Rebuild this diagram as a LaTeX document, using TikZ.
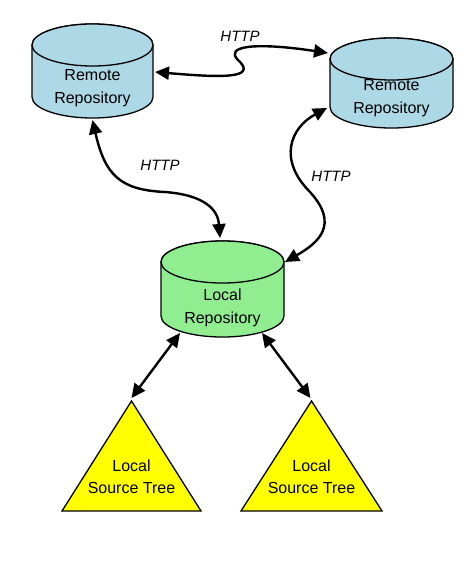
\documentclass[tikz,border=0pt]{standalone}
\usepackage{fontspec}
\setmainfont{Liberation Sans}
\usetikzlibrary{arrows.meta}
\definecolor{remoteblue}{HTML}{ADD8E6}
\definecolor{localgreen}{HTML}{90EE90}
\definecolor{treeyellow}{HTML}{FFFF00}
\tikzset{
  box/.style={draw=none,fill=none,inner sep=0pt,outer sep=0pt,rectangle},
  shapeline/.style={draw=black,line width=1.3pt},
  lbl/.style={font=\fontsize{16}{22.5}\selectfont,align=center,inner sep=0pt},
  httplbl/.style={font=\fontsize{15}{18}\selectfont\itshape,inner sep=0pt},
  conn/.style={line width=2.4pt,{Triangle[length=14pt,width=13pt]}-{Triangle[length=14pt,width=13pt]}}
}
\begin{document}
\begin{tikzpicture}[x=1pt,y=-1pt]
\useasboundingbox (0,0) rectangle (472,562);
\fill[white] (0,0) rectangle (472,562);
% invisible named boxes
\node[box,minimum width=121pt,minimum height=94pt] (r1) at (92.5,71) {};
\node[box,minimum width=123pt,minimum height=90pt] (r2) at (391.5,83) {};
\node[box,minimum width=123pt,minimum height=96pt] (loc) at (222.5,289) {};
\node[box,minimum width=139pt,minimum height=110pt] (t1) at (131.5,456) {};
\node[box,minimum width=141pt,minimum height=110pt] (t2) at (311.5,456) {};
% remote 1
\path[shapeline,fill=remoteblue] (32,45) -- (32,97) arc[start angle=180,end angle=360,x radius=60.5pt,y radius=21pt] -- (153,45) arc[start angle=0,end angle=180,x radius=60.5pt,y radius=21pt] -- cycle;
\path[shapeline,fill=remoteblue] (92.5,45) ellipse [x radius=60.5pt,y radius=21pt];
% remote 2
\path[shapeline,fill=remoteblue] (330,59) -- (330,107) arc[start angle=180,end angle=360,x radius=61.5pt,y radius=21pt] -- (453,59) arc[start angle=0,end angle=180,x radius=61.5pt,y radius=21pt] -- cycle;
\path[shapeline,fill=remoteblue] (391.5,59) ellipse [x radius=61.5pt,y radius=21pt];
% local
\path[shapeline,fill=localgreen] (161,262) -- (161,316) arc[start angle=180,end angle=360,x radius=61.5pt,y radius=21pt] -- (284,262) arc[start angle=0,end angle=180,x radius=61.5pt,y radius=21pt] -- cycle;
\path[shapeline,fill=localgreen] (222.5,262) ellipse [x radius=61.5pt,y radius=21pt];
% triangles
\path[shapeline,fill=treeyellow] (t1.north) -- (t1.south east) -- (t1.south west) -- cycle;
\path[shapeline,fill=treeyellow] (t2.north) -- (t2.south east) -- (t2.south west) -- cycle;
% texts
\node[lbl] (r1txt) at (92.5,88) {Remote\\Repository};
\node[lbl] (r2txt) at (391.5,98) {Remote\\Repository};
\node[lbl] (loctxt) at (222.5,308) {Local\\Repository};
\node[lbl] (t1txt) at (131.5,477) {Local\\Source Tree};
\node[lbl] (t2txt) at (311.5,477) {Local\\Source Tree};
% connectors
\draw[conn] ([xshift=2pt,yshift=-1pt]r1.east) .. controls (215,77) and (260,80) .. (238,60) .. controls (224,46) and (255,42) .. ([xshift=-2pt,yshift=30pt]r2.west);
\node[httplbl] (h1) at (240,36) {HTTP};
\draw[conn] ([yshift=-2pt]r1.south) .. controls (105,175) and (120,190) .. (165,192) .. controls (205,195) and (218,210) .. ([xshift=-2.5pt,yshift=3pt]loc.north);
\node[httplbl] (h2) at (160,165) {HTTP};
\draw[conn] ([xshift=-3pt,yshift=-25pt]r2.west) .. controls (290,128) and (278,160) .. (310,192) .. controls (340,225) and (318,243) .. ([xshift=1pt,yshift=-21pt]loc.north east);
\node[httplbl] (h3) at (331,176) {HTTP};
\draw[conn] ([xshift=-42.5pt,yshift=4pt]loc.south) -- ([yshift=3pt]t1.north);
\draw[conn] ([xshift=39.5pt,yshift=4pt]loc.south) -- ([xshift=-1pt,yshift=3pt]t2.north);
\end{tikzpicture}
\end{document}
